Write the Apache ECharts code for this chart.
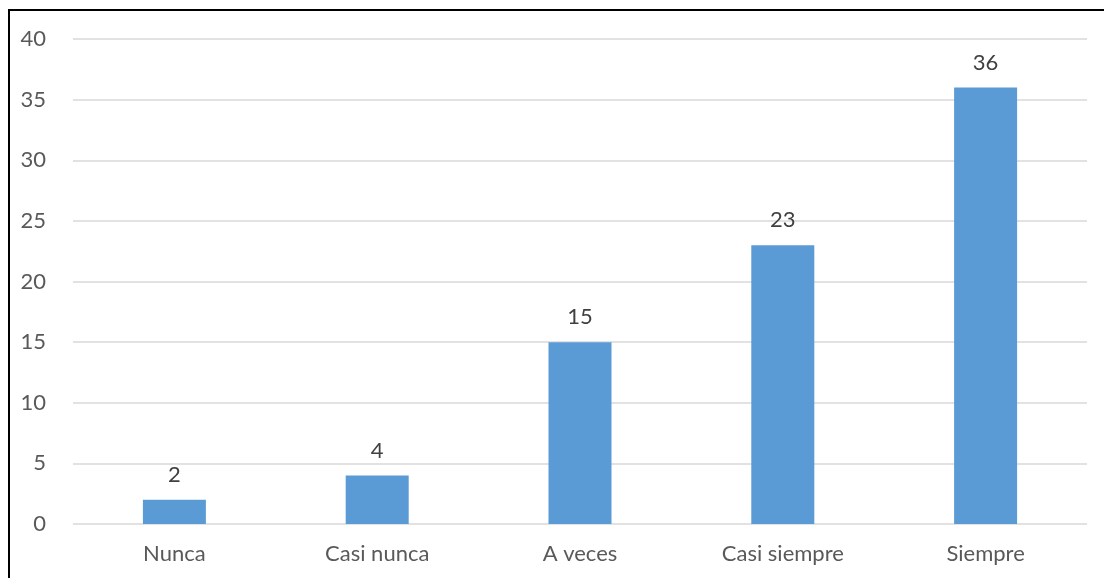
<!DOCTYPE html>
<html>
<head>
<meta charset="utf-8">
<script src="https://cdn.jsdelivr.net/npm/echarts@6/dist/echarts.min.js"></script>
<style>
  html, body { margin: 0; padding: 0; background: #fff; }
  #wrap { position: relative; width: 1104px; height: 578px; overflow: hidden; }
  #frame { position: absolute; left: 8px; top: 9px; right: -4px; bottom: -4px;
           border-left: 2px solid #000; border-top: 2px solid #000; }
  #chart { position: absolute; left: 0; top: 0; width: 1104px; height: 578px; }
</style>
</head>
<body>
<div id="wrap">
  <div id="frame"></div>
  <div id="chart"></div>
</div>
<script>
const categories = ['Nunca', 'Casi nunca', 'A veces', 'Casi siempre', 'Siempre'];
const counts = [2, 4, 15, 23, 36];

const chart = echarts.init(document.getElementById('chart'), null, { renderer: 'canvas' });
chart.setOption({
  animation: false,
  grid: { left: 73, right: 17, top: 39, bottom: 54 },
  xAxis: {
    type: 'category',
    data: categories,
    axisLine: { show: false },
    axisTick: { show: false },
    axisLabel: { color: '#595959', fontFamily: 'Lato', fontSize: 22, margin: 19 }
  },
  yAxis: {
    type: 'value',
    min: 0, max: 40, interval: 5,
    axisLine: { show: false },
    axisTick: { show: false },
    axisLabel: { color: '#595959', fontFamily: 'Lato', fontSize: 22, margin: 27 },
    splitLine: { lineStyle: { color: '#d9d9d9', width: 1.5 } }
  },
  series: [{
    type: 'bar',
    data: counts,
    barWidth: 63,
    itemStyle: { color: '#5b9bd5' },
    label: {
      show: true, position: 'top', distance: 14,
      color: '#404040', fontFamily: 'Lato', fontSize: 22
    }
  }]
});
</script>
</body>
</html>
